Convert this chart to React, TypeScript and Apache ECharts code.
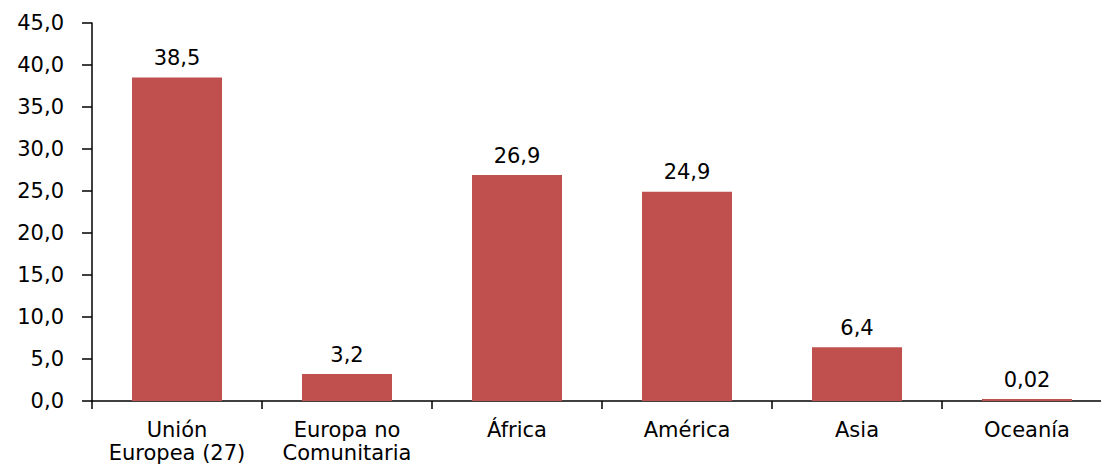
import React, { useEffect, useRef } from "react";
import * as echarts from "echarts";

const categories = ["Unión\nEuropea (27)", "Europa no\nComunitaria", "África", "América", "Asia", "Oceanía"];
const values = [38.5, 3.2, 26.9, 24.9, 6.4, 0.02];
const valueLabels = ["38,5", "3,2", "26,9", "24,9", "6,4", "0,02"];

const FONT = "DejaVu Sans";

export default function App() {
  const ref = useRef<HTMLDivElement>(null);
  useEffect(() => {
    if (!ref.current) return;
    const chart = echarts.init(ref.current, null, { renderer: "svg" });
    chart.setOption({
      animation: false,
      backgroundColor: "#ffffff",
      grid: { left: 92, right: 0, top: 23, bottom: 64, containLabel: false },
      xAxis: {
        type: "category",
        data: categories,
        boundaryGap: true,
        axisLine: { lineStyle: { color: "#000000", width: 1.5 } },
        axisTick: { show: true, length: 8, alignWithLabel: false, lineStyle: { color: "#000000", width: 1.5 } },
        axisLabel: {
          color: "#000000",
          fontFamily: FONT,
          fontSize: 21,
          lineHeight: 23,
          margin: 17,
          interval: 0,
        },
        splitLine: { show: false },
      },
      yAxis: {
        type: "value",
        min: 0,
        max: 45,
        interval: 5,
        axisLine: { show: true, lineStyle: { color: "#000000", width: 1.5 } },
        axisTick: { show: true, length: 10, lineStyle: { color: "#000000", width: 1.5 } },
        axisLabel: {
          color: "#000000",
          fontFamily: FONT,
          fontSize: 21,
          margin: 28,
          formatter: (v: number) => v.toFixed(1).replace(".", ","),
        },
        splitLine: { show: false },
      },
      series: [
        {
          type: "bar",
          data: values,
          barWidth: 90,
          barMinHeight: 2,
          itemStyle: { color: "#C0504D" },
          label: {
            show: true,
            position: "top",
            distance: 9,
            color: "#000000",
            fontFamily: FONT,
            fontSize: 21,
            formatter: (p: any) => valueLabels[p.dataIndex],
          },
        },
      ],
    });
    return () => chart.dispose();
  }, []);
  return (
    <div style={{ position: "absolute", left: 0, top: 0, width: 1101, height: 465, overflow: "hidden" }}>
      <div ref={ref} style={{ width: 1112, height: 465 }} />
    </div>
  );
}
